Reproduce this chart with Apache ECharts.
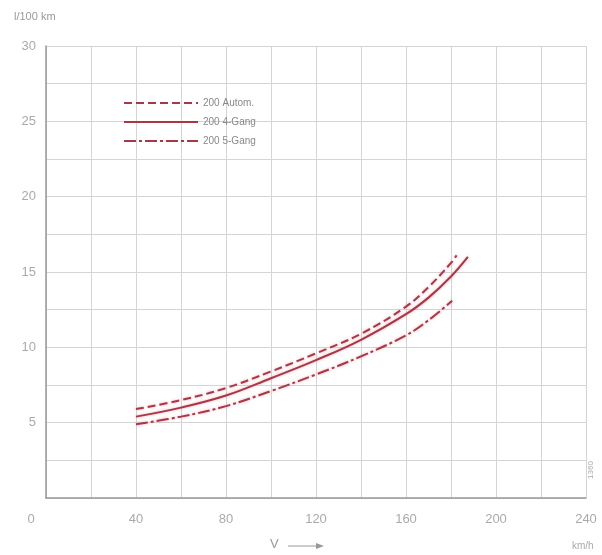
<!DOCTYPE html>
<html><head><meta charset="utf-8">
<script src="https://cdn.jsdelivr.net/npm/echarts@6/dist/echarts.min.js"></script>
<style>html,body{margin:0;padding:0;background:#fff}#c{width:602px;height:555px}</style>
</head><body><div id="c"></div>
<script>
const seriesNames = ['200 Autom.', '200 4-Gang', '200 5-Gang'];
const speedAutom = [40, 60, 80, 100, 120, 140, 160, 170, 180, 182.5];
const fuelAutom  = [5.9, 6.5, 7.3, 8.4, 9.6, 10.9, 12.7, 14.0, 15.6, 16.1];
const speed4 = [40, 60, 80, 100, 120, 140, 160, 170, 180, 187.5];
const fuel4  = [5.4, 6.0, 6.8, 7.95, 9.15, 10.5, 12.2, 13.3, 14.7, 16.0];
const speed5 = [40, 60, 80, 100, 120, 140, 160, 170, 180.5];
const fuel5  = [4.9, 5.4, 6.1, 7.1, 8.2, 9.4, 10.8, 11.8, 13.1];
const xTicks = [0, 40, 80, 120, 160, 200, 240];
const yTicks = [5, 10, 15, 20, 25, 30];

const pair = (xs, ys) => xs.map((x, i) => [x, ys[i]]);
const lineColor = '#a83846';
const mk = (name, data, type) => ({
  name, type: 'line', data, smooth: 0.4, symbol: 'none',
  lineStyle: { color: lineColor, width: 2, type,
    shadowColor: 'rgba(235,120,140,0.6)', shadowBlur: 3 },
  itemStyle: { color: lineColor }
});
const chart = echarts.init(document.getElementById('c'));
chart.setOption({
  animation: false,
  backgroundColor: '#fff',
  grid: { left: 46, right: 16, top: 46, bottom: 57 },
  legend: {
    orient: 'vertical', left: 118, top: 93, itemWidth: 74, itemHeight: 10, itemGap: 9,
    itemStyle: { opacity: 0 },
    textStyle: { color: '#888', fontSize: 10, fontFamily: 'Liberation Sans' },
    data: seriesNames
  },
  xAxis: {
    type: 'value', min: 0, max: 240, interval: 20,
    axisLine: { lineStyle: { color: '#999', width: 1.5 } },
    axisTick: { show: false },
    splitLine: { lineStyle: { color: '#d4d4d4' } },
    axisLabel: {
      color: '#aaa', fontSize: 13, fontFamily: 'Liberation Sans', margin: 15,
      formatter: v => xTicks.includes(v) ? (v === 0 ? '{z|0}' : String(v)) : '',
      rich: { z: { color: '#aaa', fontSize: 13, padding: [0, 30, 0, 0] } }
    }
  },
  yAxis: {
    type: 'value', min: 0, max: 30, interval: 2.5,
    axisLine: { show: true, lineStyle: { color: '#999', width: 1.5 } },
    axisTick: { show: false },
    splitLine: { lineStyle: { color: '#d4d4d4' } },
    axisLabel: {
      color: '#aaa', fontSize: 13, fontFamily: 'Liberation Sans', margin: 10,
      formatter: v => yTicks.includes(v) ? String(v) : ''
    }
  },
  graphic: [
    { type: 'text', left: 14, top: 11, style: { text: 'l/100 km', fill: '#999', fontSize: 11, fontFamily: 'Liberation Sans' } },
    { type: 'text', left: 270, top: 538, style: { text: 'V', fill: '#999', fontSize: 13, fontFamily: 'Liberation Sans' } },
    { type: 'line', shape: { x1: 288, y1: 546, x2: 318, y2: 546 }, style: { stroke: '#999', lineWidth: 1 } },
    { type: 'polygon', shape: { points: [[324, 546], [316, 543], [316, 549]] }, style: { fill: '#999' } },
    { type: 'text', left: 572, top: 541, style: { text: 'km/h', fill: '#aaa', fontSize: 10, fontFamily: 'Liberation Sans' } },
    { type: 'text', x: 591, y: 470, rotation: Math.PI / 2, style: { text: '1360', fill: '#aaa', fontSize: 8, fontFamily: 'Liberation Sans', align: 'center', verticalAlign: 'middle' } }
  ],
  series: [
    mk(seriesNames[0], pair(speedAutom, fuelAutom), [8, 4]),
    mk(seriesNames[1], pair(speed4, fuel4), 'solid'),
    mk(seriesNames[2], pair(speed5, fuel5), [12, 3, 3, 3])
  ]
});
</script></body></html>
